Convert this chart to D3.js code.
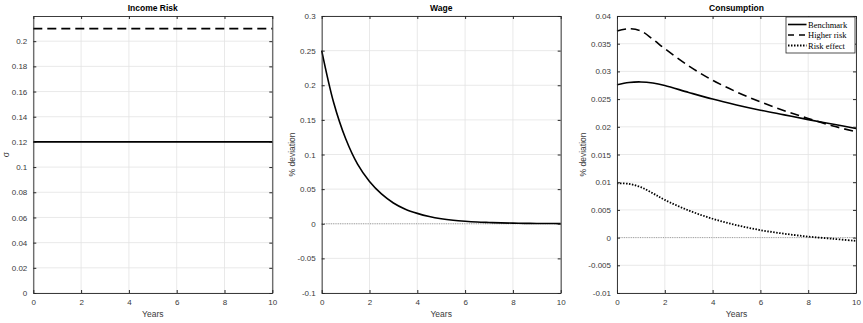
<!DOCTYPE html>
<html>
<head>
<meta charset="utf-8">
<script src="https://cdn.jsdelivr.net/npm/d3@7"></script>
<style>
  body { margin: 0; background: #fff; }
  svg { display: block; }
</style>
</head>
<body>
<div id="main"></div>
<script>
// ---- data ----
const riskYears = [0, 10];
const riskBenchmark = [0.12, 0.12];
const riskHigher = [0.21, 0.21];

const wageYears = [0,0.5,1,1.5,2,2.5,3,3.5,4,4.5,5,5.5,6,6.5,7,7.5,8,8.5,9,9.5,10];
const wage = [0.25,0.175,0.123,0.086,0.061,0.043,0.030,0.021,0.015,0.0105,0.0073,
              0.0051,0.0036,0.0025,0.0018,0.0012,0.0009,0.0006,0.0004,0.0003,0.0002];

const consYears = [0,0.5,1,1.5,2,3,4,5,6,7,8,9,10];
const consBenchmark = [0.0276,0.0280,0.0281,0.0279,0.02745,0.0262,0.0250,0.02395,0.0230,0.02215,0.0213,0.0205,0.0197];
const consHigher    = [0.0373,0.0377,0.0373,0.0358,0.0341,0.0310,0.0284,0.0263,0.0245,0.0229,0.0215,0.0202,0.0191];
const consRisk      = [0.0098,0.0097,0.0091,0.0080,0.0068,0.0049,0.0034,0.00225,0.00135,0.0007,0.00018,-0.0002,-0.0006];

const xTicks = [0,2,4,6,8,10];
const riskTicks = [0,0.02,0.04,0.06,0.08,0.1,0.12,0.14,0.16,0.18,0.2];
const wageTicks = [-0.1,-0.05,0,0.05,0.1,0.15,0.2,0.25,0.3];
const consTicks = [-0.01,-0.005,0,0.005,0.01,0.015,0.02,0.025,0.03,0.035,0.04];

const legendLabels = ['Benchmark', 'Higher risk', 'Risk effect'];

// ---- layout ----
const W = 863, H = 323;
const yTop = 16, yBot = 293, pw = 239;
const sans = '"Liberation Sans", Arial, Helvetica, sans-serif';
const serif = '"Liberation Serif", "Times New Roman", serif';
const styles = {
  solid:  { width: 1.6, dash: null },
  dashed: { width: 1.6, dash: '9,5' },
  dotted: { width: 1.8, dash: '1.5,1.5' }
};

const svg = d3.select('#main').append('svg')
  .attr('width', W).attr('height', H).attr('viewBox', [0, 0, W, H]);

const fmt = d => String(+d.toFixed(4));

function panel(o) {
  const sx = d3.scaleLinear().domain([0, 10]).range([o.left, o.left + pw]);
  const sy = d3.scaleLinear().domain(o.ydomain).range([yBot, yTop]);
  const g = svg.append('g');

  // grid
  g.append('g').selectAll('line').data(xTicks).join('line')
    .attr('x1', d => sx(d)).attr('x2', d => sx(d))
    .attr('y1', yTop).attr('y2', yBot)
    .attr('stroke', '#e3e3e3').attr('stroke-width', 0.8);
  g.append('g').selectAll('line').data(o.yticks).join('line')
    .attr('x1', o.left).attr('x2', o.left + pw)
    .attr('y1', d => sy(d)).attr('y2', d => sy(d))
    .attr('stroke', '#e3e3e3').attr('stroke-width', 0.8);

  // zero reference line
  if (o.zero) {
    g.append('line')
      .attr('x1', o.left).attr('x2', o.left + pw)
      .attr('y1', sy(0)).attr('y2', sy(0))
      .attr('stroke', '#777').attr('stroke-width', 0.7)
      .attr('stroke-dasharray', '1,1.3');
  }

  // series
  o.series.forEach(s => {
    const st = styles[s.style];
    const line = d3.line()
      .x((d, i) => sx(s.x[i])).y(d => sy(d))
      .curve(d3.curveCatmullRom.alpha(0.5));
    g.append('path').datum(s.y)
      .attr('d', line)
      .attr('fill', 'none').attr('stroke', '#000')
      .attr('stroke-width', st.width)
      .attr('stroke-dasharray', st.dash);
  });

  // axes (MATLAB-like box, inward ticks)
  const ax = (gen, tr) => g.append('g').attr('transform', tr).call(gen)
    .call(a => a.select('.domain').attr('stroke', '#262626').attr('stroke-width', 0.9))
    .call(a => a.selectAll('.tick line').attr('stroke', '#262626'))
    .call(a => a.selectAll('text').attr('font-size', 8).attr('fill', '#3a3a3a')
      .attr('font-family', sans));

  ax(d3.axisBottom(sx).tickValues(xTicks).tickFormat(fmt).tickSizeInner(-3).tickSizeOuter(0).tickPadding(6),
     `translate(0,${yBot})`);
  ax(d3.axisTop(sx).tickValues(xTicks).tickFormat('').tickSizeInner(-3).tickSizeOuter(0),
     `translate(0,${yTop})`);
  ax(d3.axisLeft(sy).tickValues(o.yticks).tickFormat(fmt).tickSizeInner(-3).tickSizeOuter(0).tickPadding(6),
     `translate(${o.left},0)`);
  ax(d3.axisRight(sy).tickValues(o.yticks).tickFormat('').tickSizeInner(-3).tickSizeOuter(0),
     `translate(${o.left + pw},0)`);

  // title and labels
  g.append('text').attr('x', o.left + pw / 2).attr('y', 11)
    .attr('text-anchor', 'middle').attr('font-family', sans).attr('font-size', 8.5)
    .attr('font-weight', 'bold').attr('fill', '#000').text(o.title);
  g.append('text').attr('x', o.left + pw / 2).attr('y', 317)
    .attr('text-anchor', 'middle').attr('font-family', sans).attr('font-size', 8.5)
    .attr('fill', '#3a3a3a').text('Years');
  g.append('text')
    .attr('transform', `translate(${o.ylabX},${(yTop + yBot) / 2}) rotate(-90)`)
    .attr('text-anchor', 'middle').attr('font-family', sans).attr('font-size', 8.5)
    .attr('fill', '#3a3a3a').text(o.ylabel);

  return { g, sx, sy };
}

panel({
  left: 33.3, title: 'Income Risk', ylabel: 'σ', ylabX: 9,
  ydomain: [0, 0.22], yticks: riskTicks,
  series: [
    { x: riskYears, y: riskBenchmark, style: 'solid' },
    { x: riskYears, y: riskHigher, style: 'dashed' }
  ]
});

panel({
  left: 321.7, title: 'Wage', ylabel: '% deviation', ylabX: 295,
  ydomain: [-0.1, 0.3], yticks: wageTicks, zero: true,
  series: [ { x: wageYears, y: wage, style: 'solid' } ]
});

const p3 = panel({
  left: 617, title: 'Consumption', ylabel: '% deviation', ylabX: 586,
  ydomain: [-0.01, 0.04], yticks: consTicks, zero: true,
  series: [
    { x: consYears, y: consBenchmark, style: 'solid' },
    { x: consYears, y: consHigher, style: 'dashed' },
    { x: consYears, y: consRisk, style: 'dotted' }
  ]
});

// legend
{
  const lx = 786, ly = 17, lw = 69, lh = 36;
  const lg = p3.g.append('g');
  lg.append('rect').attr('x', lx).attr('y', ly).attr('width', lw).attr('height', lh)
    .attr('fill', '#fff').attr('stroke', '#262626').attr('stroke-width', 0.8);
  const keys = ['solid', 'dashed', 'dotted'];
  legendLabels.forEach((t, i) => {
    const y = ly + 7.5 + i * 10.5;
    const st = styles[keys[i]];
    lg.append('line').attr('x1', lx + 2).attr('x2', lx + 20.5).attr('y1', y).attr('y2', y)
      .attr('stroke', '#000').attr('stroke-width', st.width)
      .attr('stroke-dasharray', keys[i] === 'dashed' ? '6,5' : st.dash);
    lg.append('text').attr('x', lx + 22).attr('y', y + 3)
      .attr('font-family', serif)
      .attr('font-size', 8.5).attr('fill', '#000').text(t);
  });
}
</script>
</body>
</html>
